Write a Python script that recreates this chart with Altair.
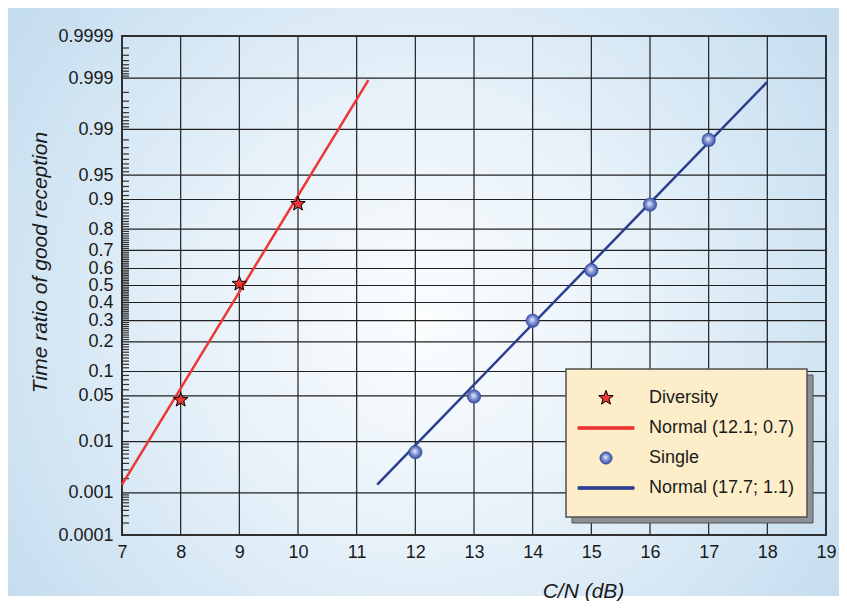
import math
import statistics
import pandas as pd
import altair as alt

nd = statistics.NormalDist()


def probit(p):
    return nd.inv_cdf(p)


# ---------------- data ----------------
div_x = [8, 9, 10]
div_p = [0.044, 0.51, 0.888]
sgl_x = [12, 13, 14, 15, 16, 17]
sgl_p = [0.0065, 0.049, 0.30, 0.59, 0.886, 0.985]
div_fit_x = [7.0, 11.2]
div_fit_p = [0.0015, 0.9989]
sgl_fit_x = [11.35, 18.0]
sgl_fit_p = [0.0015, 0.9988]

x_ticks = [7, 8, 9, 10, 11, 12, 13, 14, 15, 16, 17, 18, 19]
y_ticks = [0.0001, 0.001, 0.01, 0.05, 0.1, 0.2, 0.3, 0.4, 0.5, 0.6, 0.7,
           0.8, 0.9, 0.95, 0.99, 0.999, 0.9999]
legend_labels = ["Diversity", "Normal (12.1; 0.7)", "Single", "Normal (17.7; 1.1)"]
minor_bands = [(0.0001, 0.001, 0.0001), (0.001, 0.01, 0.001), (0.01, 0.05, 0.005),
               (0.05, 0.1, 0.01), (0.1, 0.9, 0.01), (0.9, 0.95, 0.01),
               (0.95, 0.99, 0.005), (0.99, 0.999, 0.001), (0.999, 0.9999, 0.0001)]

# ---------------- derived tables ----------------
minor_p = []
for lo, hi, step in minor_bands:
    n = round((hi - lo) / step)
    for i in range(1, n):
        v = lo + i * step
        if min(abs(v - m) for m in y_ticks) > 1e-9:
            minor_p.append(v)

df_div = pd.DataFrame({"x": div_x, "z": [probit(p) for p in div_p], "series": "Diversity"})
df_sgl = pd.DataFrame({"x": sgl_x, "z": [probit(p) for p in sgl_p], "series": "Single"})
df_div_fit = pd.DataFrame({"x": div_fit_x, "z": [probit(p) for p in div_fit_p]})
df_sgl_fit = pd.DataFrame({"x": sgl_fit_x, "z": [probit(p) for p in sgl_fit_p]})
df_xgrid = pd.DataFrame({"x": x_ticks})
df_ygrid = pd.DataFrame({"z": [probit(p) for p in y_ticks]})
df_minor = pd.DataFrame({"z": [probit(p) for p in minor_p]})
zmin, zmax = probit(y_ticks[0]), probit(y_ticks[-1])
df_frame = pd.DataFrame({"x0": [x_ticks[0]], "x1": [x_ticks[-1]], "z0": [zmin], "z1": [zmax]})
one = pd.DataFrame({"a": [0]})

# ---------------- style ----------------
W, H = 704, 499
FONT = "Liberation Sans"
TXT = "#1a1a1a"
GRID = "#202020"

xscale = alt.Scale(domain=[x_ticks[0], x_ticks[-1]], nice=False, zero=False)
yscale = alt.Scale(domain=[zmin, zmax], nice=False, zero=False)

xaxis = alt.Axis(values=x_ticks, grid=False, ticks=False, domain=False,
                 labelFont=FONT, labelFontSize=18, labelColor=TXT, labelPadding=8,
                 labelFlush=False, labelOverlap=False,
                 title="C/N (dB)", titleFont=FONT, titleFontSize=21,
                 titleFontStyle="italic", titleFontWeight="normal", titleColor=TXT,
                 titleX=461, titleY=62, titleBaseline="alphabetic", titleAlign="center",
                 zindex=1)
yaxis = alt.Axis(values=[probit(p) for p in y_ticks],
                 labelExpr="toString(round(cumulativeNormal(datum.value)*10000)/10000)",
                 grid=False, ticks=False, domain=False,
                 labelFont=FONT, labelFontSize=18, labelColor=TXT, labelPadding=9,
                 labelFlush=False, labelOverlap=False,
                 title="Time ratio of good reception", titleFont=FONT, titleFontSize=21,
                 titleFontStyle="italic", titleFontWeight="normal", titleColor=TXT,
                 titleX=-82, titleY=226, titleBaseline="middle", titleAlign="center",
                 titleAngle=270, zindex=1)


def X(f):
    return alt.X(f, type="quantitative", scale=xscale, axis=xaxis)


def Y(f):
    return alt.Y(f, type="quantitative", scale=yscale, axis=yaxis)


bg_grad = alt.RadialGradient(
    gradient="radial", x1=0.5, y1=0.52, r1=0.0, x2=0.5, y2=0.52, r2=0.62,
    stops=[alt.GradientStop(offset=0, color="#fbfdfe"),
           alt.GradientStop(offset=0.45, color="#e6f1f9"),
           alt.GradientStop(offset=1, color="#c3dcef")])

sphere_grad = alt.RadialGradient(
    gradient="radial", x1=0.45, y1=0.42, r1=0.0, x2=0.5, y2=0.5, r2=0.55,
    stops=[alt.GradientStop(offset=0, color="#eef0fb"),
           alt.GradientStop(offset=0.5, color="#7c8fd4"),
           alt.GradientStop(offset=1, color="#2b4393")])
sphere_grad_expr = alt.ExprRef(
    "{gradient: 'radial', x1: 0.45, y1: 0.42, r1: 0, x2: 0.5, y2: 0.5, r2: 0.55, "
    "stops: [{offset: 0, color: '#eef0fb'}, {offset: 0.5, color: '#7c8fd4'}, "
    "{offset: 1, color: '#2b4393'}]}")

# legend symbol shapes (unit paths)
pts = []
for k in range(10):
    r = 0.95 if k % 2 == 0 else 0.4
    a = -math.pi / 2 + k * math.pi / 5
    pts.append(f"{r * math.cos(a):.3f},{r * math.sin(a):.3f}")
star_path = "M" + "L".join(pts) + "Z"
circle_path = "M0.75,0A0.75,0.75,0,1,1,-0.75,0A0.75,0.75,0,1,1,0.75,0Z"
line_path = "M-3.5,-0.16L3.5,-0.16L3.5,0.16L-3.5,0.16Z"

RED = "#ef3535"
NAVY = "#2b3e8e"
leg = alt.Legend(title=None, orient="none", legendX=475, legendY=353, padding=0,
                 rowPadding=12, labelOffset=34, symbolSize=256, symbolStrokeWidth=1,
                 symbolOpacity=1, labelFont=FONT, labelFontSize=18, labelColor=TXT,
                 labelLimit=400)

# ---------------- layers ----------------
bg = alt.Chart(one).mark_rect(fill=bg_grad).encode(
    x=alt.value(-114), x2=alt.value(717), y=alt.value(-28), y2=alt.value(560))

vgrid = alt.Chart(df_xgrid).mark_rule(color=GRID, strokeWidth=1.2).encode(
    x=X("x"), y=alt.value(0), y2=alt.value(H))
hgrid = alt.Chart(df_ygrid).mark_rule(color=GRID, strokeWidth=1.2).encode(
    y=Y("z"), x=alt.value(0), x2=alt.value(W))
minor = alt.Chart(df_minor).mark_rule(color="#303030", strokeWidth=1.2).encode(
    y=Y("z"), x=alt.value(0), x2=alt.value(7))
frame = alt.Chart(df_frame).mark_rect(fillOpacity=0, stroke="#303030", strokeWidth=2).encode(
    x=X("x0"), x2="x1", y=Y("z0"), y2="z1")

red_line = alt.Chart(df_div_fit).mark_line(color=RED, strokeWidth=2.5).encode(x=X("x"), y=Y("z"))
blue_line = alt.Chart(df_sgl_fit).mark_line(color=NAVY, strokeWidth=2.5).encode(x=X("x"), y=Y("z"))

stars = alt.Chart(df_div).mark_point(filled=True, size=256, opacity=1, strokeWidth=1).encode(
    x=X("x"), y=Y("z"),
    shape=alt.Shape("series:N", scale=alt.Scale(domain=legend_labels,
                    range=[star_path, line_path, circle_path, line_path]), legend=leg),
    fill=alt.Fill("series:N", scale=alt.Scale(domain=legend_labels,
                  range=[RED, RED, sphere_grad_expr, NAVY]), legend=leg),
    stroke=alt.Stroke("series:N", scale=alt.Scale(domain=legend_labels,
                      range=["#000000", RED, "#3a52a0", NAVY]), legend=leg),
)

spheres = alt.Chart(df_sgl).mark_point(shape="circle", filled=True, size=180, opacity=1,
                                       fill=sphere_grad, stroke="#2b4393",
                                       strokeWidth=0.6).encode(x=X("x"), y=Y("z"))

shadow = alt.Chart(one).mark_rect(fill="#8d9195", stroke="#505050", strokeWidth=1).encode(
    x=alt.value(450), x2=alt.value(691), y=alt.value(339), y2=alt.value(487))
box = alt.Chart(one).mark_rect(fill="#fdeec9", stroke="#505050", strokeWidth=1.5).encode(
    x=alt.value(444), x2=alt.value(685), y=alt.value(333), y2=alt.value(481))

chart = alt.layer(bg, vgrid, hgrid, minor, frame, red_line, blue_line, stars, spheres,
                  shadow, box).properties(width=W, height=H, background="white",
                                          padding=0
                  ).configure_view(stroke=None)

chart.save("out.html", embed_options={"renderer": "svg", "actions": False})
